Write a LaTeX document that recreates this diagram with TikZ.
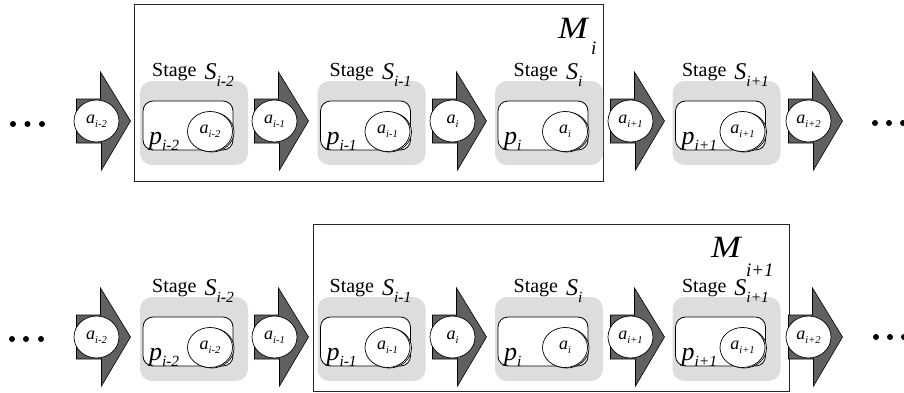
\documentclass[tikz,border=0pt]{standalone}
\usepackage{fontspec}
\setmainfont{Liberation Serif}
\definecolor{stagegray}{RGB}{221,221,221}
\definecolor{arrowgray}{RGB}{96,96,96}
\newcommand{\fs}[1]{\fontsize{#1}{#1}\selectfont}
\newcommand{\alab}[1]{{\fs{18}\textit{a}}\raisebox{-4pt}{\fs{10.5}\textit{#1}}}
\newcommand{\plab}[1]{{\fs{26}\textit{p}}\raisebox{-6pt}{\fs{15.5}\textit{#1}}}
\newcommand{\slab}[1]{{\fs{20}Stage}\hspace{8pt}\raisebox{-3pt}{\fs{24}\textit{S}}\raisebox{-10pt}{\fs{15.5}\textit{#1}}}
\newcommand{\mlab}{\scalebox{1.15}[1]{\fs{31}\textit{M}}}
\newcommand{\myarrow}[4]{%
  \filldraw[arrowshape] ({#1-20},{#2-22}) -- ({#1+4},{#2-22}) -- ({#1+4},{#2-49}) -- ({#1+34},{#2}) -- ({#1+5},{#2+49}) -- ({#1+5},{#2+22}) -- ({#1-20},{#2+22}) -- cycle;
  \draw[circ] (#1,#2) ellipse [x radius=22.5pt, y radius=21pt];
  \node[txt] (#4) at (#1,#2) {\alab{#3}};
}
\newcommand{\mystage}[4]{%
  \fill[stagegray, rounded corners=12pt] ({#1-54},{#2-40}) rectangle ({#1+54},{#2+44});
  \node[txt, anchor=base] (#4s) at ({#1-1},{#2-45}) {\slab{#3}};
  \draw[innerbox] ({#1-51},{#2-20}) rectangle ({#1+39},{#2+29});
  \draw[circ] ({#1+17.5},{#2+11}) ellipse [x radius=22.5pt, y radius=20pt];
  \draw[circ] ({#1+16},{#2+10.5}) ellipse [x radius=22.5pt, y radius=20pt];
  \node[txt, anchor=base west] (#4p) at ({#1-45},{#2+23}) {\plab{#3}};
  \node[txt] (#4a) at ({#1+16},{#2+10.5}) {\alab{#3}};
}
\begin{document}
\begin{tikzpicture}[x=1pt,y=-1pt,
  txt/.style={inner sep=0pt, outer sep=0pt},
  arrowshape/.style={fill=arrowgray, draw=black, line width=0.6pt, line join=miter},
  circ/.style={draw=black, fill=white, line width=0.7pt},
  innerbox/.style={draw=black, fill=white, line width=0.8pt, rounded corners=10pt},
  mbox/.style={draw=black!85, line width=1pt}]
\useasboundingbox (0,0) rectangle (904,392);
% top row
\draw[mbox] (134,4) rectangle (603,181);
\node[txt, anchor=base west] (mi) at (558,38) {\mlab};
\node[txt, anchor=base west] (misub) at (591,54) {\fs{19}\textit{i}};
\foreach \xx in {13,27.5,42} \fill (\xx,124) circle [radius=3pt];
\foreach \xx in {875,889,903} \fill (\xx,123) circle [radius=3pt];
\myarrow{96.5}{121}{i-2}{ta0}
\mystage{194}{121}{i-2}{ts0}
\myarrow{274.5}{121}{i-1}{ta1}
\mystage{371.5}{121}{i-1}{ts1}
\myarrow{452.5}{121}{i}{ta2}
\mystage{549}{121}{i}{ts2}
\myarrow{630.5}{121}{i+1}{ta3}
\mystage{726.5}{121}{i+1}{ts3}
\myarrow{808.5}{121}{i+2}{ta4}
% bottom row
\draw[mbox] (313,224) rectangle (789,391);
\node[txt, anchor=base west] (mj) at (711,257) {\mlab};
\node[txt, anchor=base west] (mjsub) at (746,276) {\fs{19}\textit{i+1}};
\foreach \xx in {12,26,41} \fill (\xx,339) circle [radius=3pt];
\foreach \xx in {876,890,904} \fill (\xx,337) circle [radius=3pt];
\myarrow{96.5}{337}{i-2}{ba0}
\mystage{194}{337}{i-2}{bs0}
\myarrow{274.5}{337}{i-1}{ba1}
\mystage{371.5}{337}{i-1}{bs1}
\myarrow{452.5}{337}{i}{ba2}
\mystage{549}{337}{i}{bs2}
\myarrow{630.5}{337}{i+1}{ba3}
\mystage{726.5}{337}{i+1}{bs3}
\myarrow{808.5}{337}{i+2}{ba4}
\end{tikzpicture}
\end{document}
